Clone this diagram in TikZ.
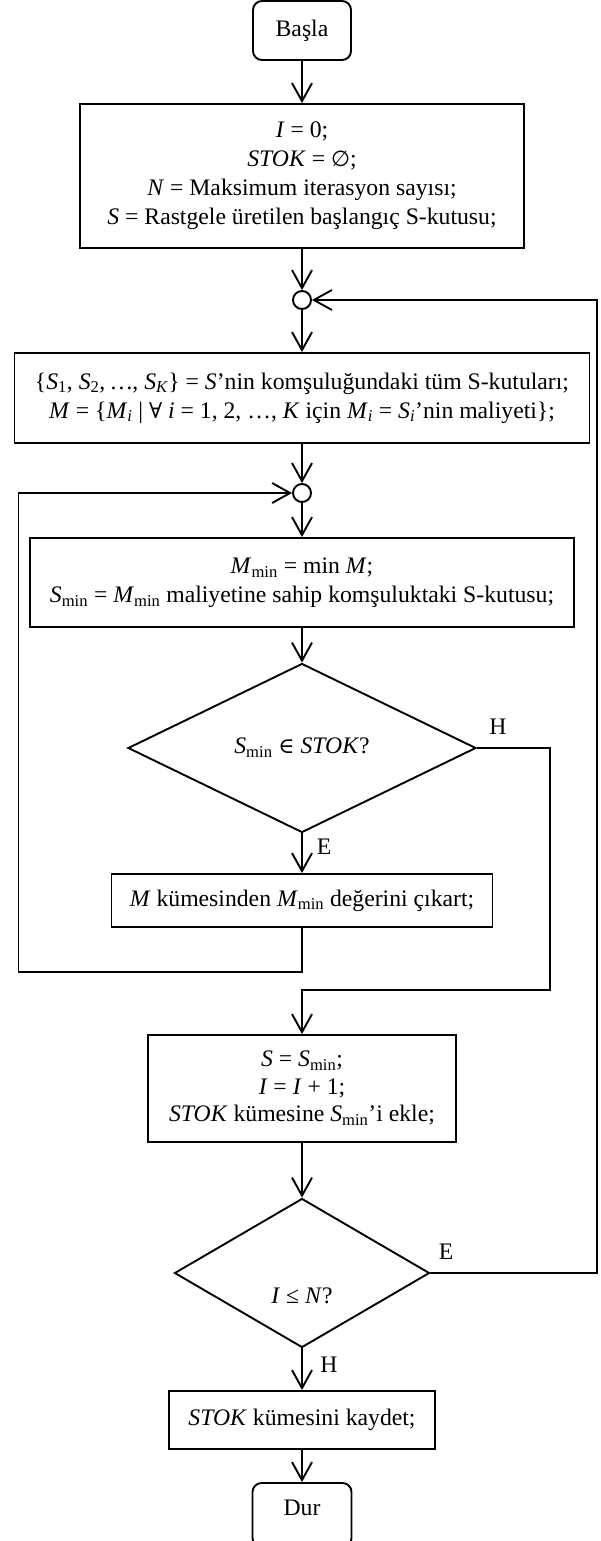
\documentclass[tikz,border=0pt]{standalone}
\usepackage{fontspec}
\setmainfont{Liberation Serif}
\newfontfamily\symf[Scale=0.92]{DejaVu Serif}
\newfontfamily\symsans[Scale=0.92]{DejaVu Sans}
\usetikzlibrary{shapes.geometric,arrows.meta}
\newcommand\subm{\textsubscript{min}}
\newcommand\iv[1]{\textit{#1}}
\tikzset{
  every node/.style={font=\fontsize{23.7pt}{29pt}\selectfont},
  box/.style={draw, line width=1.9pt, inner sep=0pt, align=center},
  term/.style={box, rounded corners=9pt},
  dec/.style={draw, diamond, line width=1.9pt, inner sep=0pt, align=center},
  junc/.style={draw, circle, line width=1.9pt, minimum size=18pt, inner sep=0pt},
  flow/.style={line width=1.9pt, -{Straight Barb[length=18pt,width=20pt,line width=1.9pt]}},
  lab/.style={inner sep=0pt}
}
\begin{document}
\begin{tikzpicture}[x=1pt,y=-1pt]
\useasboundingbox (0,0) rectangle (601,1541);
\node[term, minimum width=98pt, minimum height=59pt] (start) at (302,30.5) {Başla};
\node[box, minimum width=444pt, minimum height=144pt] (init) at (302,176)
  {\iv{I} = 0;\\ \iv{STOK} = {\symsans ∅};\\ \iv{N} = Maksimum iterasyon sayısı;\\ \iv{S} = Rastgele üretilen başlangıç S-kutusu;};
\node[junc] (j1) at (302,300) {};
\node[box, minimum width=575pt, minimum height=90pt] (nb) at (302,398)
  {\{\iv{S}\textsubscript{1}, \iv{S}\textsubscript{2}, \iv{…}, \iv{S}\textsubscript{\iv{K}}\} = \iv{S}’nin komşuluğundaki tüm S-kutuları;\\
   \iv{M} = \{\iv{M}\textsubscript{\iv{i}} | {\symf ∀} \iv{i} = 1, 2, …, \iv{K} için \iv{M}\textsubscript{\iv{i}} = \iv{S}\textsubscript{\iv{i}}’nin maliyeti\};};
\node[junc] (j2) at (302,493) {};
\node[box, minimum width=544pt, minimum height=89pt] (mn) at (302,582.5)
  {\iv{M}\subm{} = min \iv{M};\\ \iv{S}\subm{} = \iv{M}\subm{} maliyetine sahip komşuluktaki S-kutusu;};
\node[dec, aspect=2.06, minimum width=348pt, minimum height=169pt] (d1) at (302,748)
  {\iv{S}\subm{} {\symf ∈} \iv{STOK}?};
\node[box, minimum width=381pt, minimum height=53pt] (rm) at (302,900.5)
  {\iv{M} kümesinden \iv{M}\subm{} değerini çıkart;};
\node[box, minimum width=308pt, minimum height=107pt, font=\fontsize{23.7pt}{27.5pt}\selectfont] (upd) at (302,1088.5)
  {\iv{S} = \iv{S}\subm;\\ \iv{I} = \iv{I} + 1;\\ \iv{STOK} kümesine \iv{S}\subm’i ekle;};
\node[dec, aspect=1.71, minimum width=255pt, minimum height=149pt] (d2) at (302,1273)
  {\raisebox{-30pt}[0pt][0pt]{\iv{I} ≤ \iv{N}?}};
\node[box, minimum width=266pt, minimum height=58pt] (save) at (302,1420)
  {\iv{STOK} kümesini kaydet;};
\node[term, minimum width=99pt, minimum height=64pt] (stop) at (302,1515)
  {\raisebox{0pt}[0pt][0pt]{Dur}};
% labels
\node[lab] (lh1) at (498,727) {H};
\node[lab] (le1) at (324,847) {E};
\node[lab] (le2) at (446,1252) {E};
\node[lab] (lh2) at (329,1365) {H};
% bend coordinates
\coordinate (L1) at (18.5,972);
\coordinate (H1) at (550,990);
\coordinate (R1) at (597,300);
% connectors
\draw[flow] (start) -- (init);
\draw[flow] (init) -- (j1);
\draw[flow] (j1) -- (nb);
\draw[flow] (nb) -- (j2);
\draw[flow] (j2) -- (mn);
\draw[flow] (mn) -- (d1);
\draw[flow] (d1) -- (rm);
\draw[flow] (rm.south) |- (L1) |- (j2.west);
\draw[flow] (d1.east) -| (H1) -| (upd.north);
\draw[flow] (upd) -- (d2);
\draw[flow] (d2.east) -| (R1) -- (j1.east);
\draw[flow] (d2) -- (save);
\draw[flow] (save) -- (stop);
\end{tikzpicture}
\end{document}
